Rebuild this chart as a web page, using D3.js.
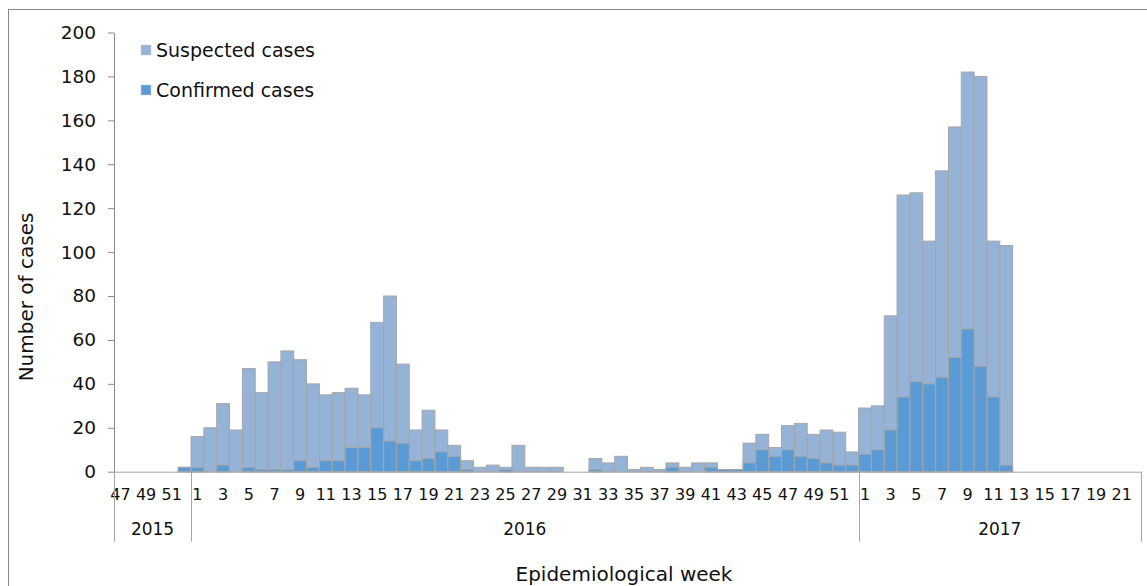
<!DOCTYPE html>
<html>
<head>
<meta charset="utf-8">
<script src="https://cdn.jsdelivr.net/npm/d3@7"></script>
<style>
  body { margin: 0; background: #fff; }
  text { font-family: "DejaVu Sans", Verdana, sans-serif; fill: #111; }
</style>
</head>
<body>
<div id="chart"></div>
<script>
// categories
var years = ["2015", "2016", "2017"];
var weeks2015 = [47, 48, 49, 50, 51, 52];
var weeks2016 = [1, 2, 3, 4, 5, 6, 7, 8, 9, 10, 11, 12, 13, 14, 15, 16, 17, 18, 19, 20, 21, 22, 23, 24, 25, 26,
  27, 28, 29, 30, 31, 32, 33, 34, 35, 36, 37, 38, 39, 40, 41, 42, 43, 44, 45, 46, 47, 48, 49, 50, 51, 52];
var weeks2017 = [1, 2, 3, 4, 5, 6, 7, 8, 9, 10, 11, 12, 13, 14, 15, 16, 17, 18, 19, 20, 21, 22];

// series, in week order 2015-W47 .. 2017-W22
var suspected = [0, 0, 0, 0, 0, 2,
  16, 20, 31, 19, 47, 36, 50, 55, 51, 40, 35, 36, 38, 35, 68, 80, 49, 19, 28, 19, 12, 5, 2, 3, 2, 12,
  2, 2, 2, 0, 0, 6, 4, 7, 1, 2, 1, 4, 2, 4, 4, 1, 1, 13, 17, 11, 21, 22, 17, 19, 18, 9,
  29, 30, 71, 126, 127, 105, 137, 157, 182, 180, 105, 103, 0, 0, 0, 0, 0, 0, 0, 0, 0, 0];
var confirmed = [0, 0, 0, 0, 0, 2,
  2, 0, 3, 0, 2, 1, 1, 1, 5, 2, 5, 5, 11, 11, 20, 14, 13, 5, 6, 9, 7, 1, 0, 0, 1, 0,
  0, 0, 0, 0, 0, 1, 0, 0, 0, 0, 0, 2, 0, 0, 2, 1, 1, 4, 10, 7, 10, 7, 6, 4, 3, 3,
  8, 10, 19, 34, 41, 40, 43, 52, 65, 48, 34, 3, 0, 0, 0, 0, 0, 0, 0, 0, 0, 0];

var yTicks = [0, 20, 40, 60, 80, 100, 120, 140, 160, 180, 200];
var seriesNames = ["Suspected cases", "Confirmed cases"];

var colorSusp = "#95b3d7";
var colorConf = "#5b9bd5";
var barStroke = "#a6a6a6";
var axisColor = "#898989";

// build the week table
var weekYears = [[years[0], weeks2015], [years[1], weeks2016], [years[2], weeks2017]];
var data = [];
weekYears.forEach(function (wy) {
  wy[1].forEach(function (w) {
    data.push({ key: wy[0] + "-" + w, year: wy[0], week: w });
  });
});
data.forEach(function (d, i) {
  d.suspected = suspected[i];
  d.confirmed = confirmed[i];
});

var W = 1147, H = 586;
var margin = { top: 32.5, left: 114, right: 6, bottom: 114.3 };
var plotW = W - margin.left - margin.right;
var plotH = H - margin.top - margin.bottom;

var svg = d3.select("#chart").append("svg").attr("width", W).attr("height", H);

// outer frame
svg.append("rect")
  .attr("x", 8.5).attr("y", 9.5)
  .attr("width", 1200).attr("height", 700)
  .attr("fill", "none").attr("stroke", axisColor);

var g = svg.append("g").attr("transform", `translate(${margin.left}, ${margin.top})`);

var x = d3.scaleBand().domain(data.map((d) => d.key)).range([0, plotW]).padding(0);
var y = d3.scaleLinear().domain([0, 200]).range([plotH, 0]);

// bars
g.append("g").selectAll("rect")
  .data(data.filter((d) => d.suspected > 0))
  .join("rect")
  .attr("x", (d) => x(d.key))
  .attr("width", x.bandwidth())
  .attr("y", (d) => y(d.suspected))
  .attr("height", (d) => y(0) - y(d.suspected))
  .attr("fill", colorSusp)
  .attr("stroke", barStroke)
  .attr("stroke-width", 1);

g.append("g").selectAll("rect")
  .data(data.filter((d) => d.confirmed > 0))
  .join("rect")
  .attr("x", (d) => x(d.key))
  .attr("width", x.bandwidth())
  .attr("y", (d) => y(d.confirmed))
  .attr("height", (d) => y(0) - y(d.confirmed))
  .attr("fill", colorConf)
  .attr("stroke", barStroke)
  .attr("stroke-width", 1);

// y axis
var yAxis = d3.axisLeft(y).tickValues(yTicks).tickSize(6).tickPadding(12).tickSizeOuter(0);
var yg = g.append("g").call(yAxis);
yg.select(".domain").attr("stroke", axisColor);
yg.selectAll(".tick line").attr("stroke", axisColor);
yg.selectAll(".tick text").style("font-size", "18.5px").attr("fill", "#111");

// x axis: week labels on every other week
var xAxis = d3.axisBottom(x)
  .tickValues(data.filter((d, i) => i % 2 === 0).map((d) => d.key))
  .tickFormat((k) => k.split("-")[1])
  .tickSize(0).tickPadding(17).tickSizeOuter(0);
var xg = g.append("g").attr("transform", `translate(0, ${plotH})`).call(xAxis);
xg.select(".domain").attr("stroke", barStroke);
xg.selectAll(".tick text").style("font-size", "16px").attr("fill", "#111");

// year groups
var groups = years.map(function (yr) {
  var ks = data.filter((d) => d.year === yr).map((d) => d.key);
  return { year: yr, x0: x(ks[0]), x1: x(ks[ks.length - 1]) + x.bandwidth() };
});
var bounds = [groups[0].x0].concat(groups.map((d) => d.x1));
g.append("g").selectAll("line")
  .data(bounds)
  .join("line")
  .attr("x1", (d) => Math.round(d) + 0.5).attr("x2", (d) => Math.round(d) + 0.5)
  .attr("y1", plotH).attr("y2", plotH + 70)
  .attr("stroke", barStroke);
g.append("g").selectAll("text")
  .data(groups)
  .join("text")
  .attr("x", (d) => (d.x0 + d.x1) / 2)
  .attr("y", plotH + 63)
  .attr("text-anchor", "middle")
  .style("font-size", "17px")
  .text((d) => d.year);

// axis titles
svg.append("text")
  .attr("x", 624).attr("y", 581)
  .attr("text-anchor", "middle")
  .style("font-size", "20px")
  .text("Epidemiological week");
svg.append("text")
  .attr("transform", "translate(33, 297) rotate(-90)")
  .attr("text-anchor", "middle")
  .style("font-size", "20px")
  .text("Number of cases");

// legend
var legend = svg.append("g").attr("transform", "translate(141, 45)");
var items = legend.selectAll("g")
  .data(seriesNames)
  .join("g")
  .attr("transform", (d, i) => `translate(0, ${i * 40})`);
items.append("rect")
  .attr("width", 10).attr("height", 10)
  .attr("fill", (d, i) => (i === 0 ? colorSusp : colorConf))
  .attr("stroke", "#c8c8c8").attr("stroke-width", 0.5);
items.append("text")
  .attr("x", 15).attr("y", 11.7)
  .style("font-size", "19px")
  .text((d) => d);
</script>
</body>
</html>
